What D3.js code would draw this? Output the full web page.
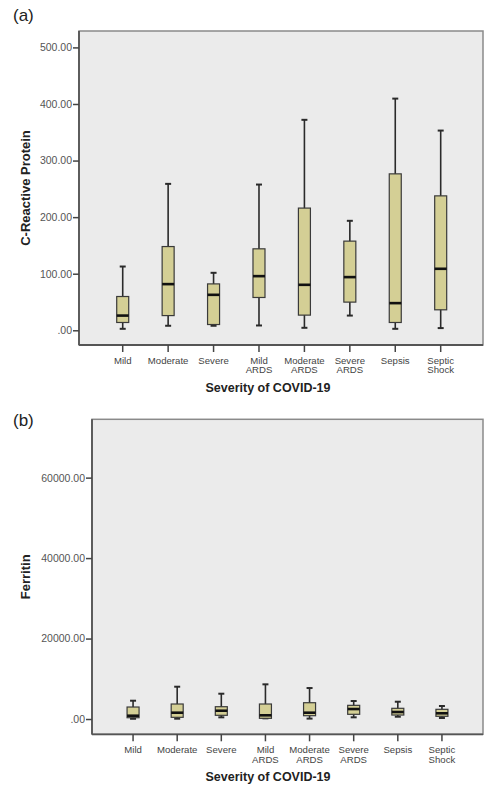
<!DOCTYPE html>
<html>
<head>
<meta charset="utf-8">
<script src="https://cdn.jsdelivr.net/npm/d3@7"></script>
<style>
  html, body { margin: 0; padding: 0; background: #fff; }
  svg { display: block; font-family: "Liberation Sans", Arial, sans-serif; }
</style>
</head>
<body>
<svg id="chart" width="486" height="792"></svg>
<script>
// categories (x axis), split into label lines
const categories = ["Mild", "Moderate", "Severe", "Mild ARDS", "Moderate ARDS", "Severe ARDS", "Sepsis", "Septic Shock"];
const categoryLines = [["Mild"], ["Moderate"], ["Severe"], ["Mild", "ARDS"], ["Moderate", "ARDS"], ["Severe", "ARDS"], ["Sepsis"], ["Septic", "Shock"]];

// (a) C-Reactive Protein box stats
const crpMin    = [2.6,   8,     8,    8.5,   4.4,   26,    2.6,   3.9];
const crpQ1     = [13.8,  26,    10.2, 58,    26.8,  49.8,  13.8,  36.2];
const crpMedian = [26,    81.6,  62.7, 95.7,  80.4,  94,    48,    108.7];
const crpQ3     = [59.7,  148,   82,   144,   216,   157.6, 276.5, 237.6];
const crpMax    = [112.7, 258.8, 101.6, 257.6, 372,  193.5, 409.5, 353];
const crpTicks  = [0, 100, 200, 300, 400, 500];

// (b) Ferritin box stats
const ferMin    = [60,   80,   420,  170,  100,  420,  570,  250];
const ferQ1     = [320,  420,  920,  170,  820,  1170, 990,  670];
const ferMedian = [820,  1570, 2060, 920,  1570, 2480, 1740, 1420];
const ferQ3     = [2980, 3730, 3060, 3730, 4050, 3400, 2660, 2410];
const ferMax    = [4550, 8030, 6290, 8620, 7700, 4470, 4300, 3230];
const ferTicks  = [0, 20000, 40000, 60000];

const svg = d3.select("#chart");
const fmt = v => v === 0 ? ".00" : d3.format(".2f")(v);

function zip(mins, q1s, meds, q3s, maxs) {
  return categories.map((c, i) => ({
    cat: c, lines: categoryLines[i],
    min: mins[i], q1: q1s[i], med: meds[i], q3: q3s[i], max: maxs[i]
  }));
}

function drawPanel(opts) {
  const { frame, extent, ticks, xRange, data, yTitle, panelLabel, labelY } = opts;
  const g = svg.append("g");

  const x = d3.scaleBand().domain(categories).range(xRange).padding(0);
  const y = d3.scaleLinear().domain(extent).range([frame.bottom, frame.top]);
  const cx = d => x(d) + x.bandwidth() / 2;

  // panel label
  svg.append("text")
    .attr("x", 13).attr("y", labelY)
    .style("font-size", "17px").style("fill", "#222")
    .text(panelLabel);

  // plot background + frame
  g.append("rect")
    .attr("x", frame.left).attr("y", frame.top)
    .attr("width", frame.right - frame.left).attr("height", frame.bottom - frame.top)
    .attr("fill", "#ebebeb").attr("stroke", "#8a8a8a").attr("stroke-width", 1.5);
  g.append("line")
    .attr("x1", frame.left).attr("x2", frame.left)
    .attr("y1", frame.top).attr("y2", frame.bottom)
    .attr("stroke", "#555").attr("stroke-width", 1.8);
  g.append("line")
    .attr("x1", frame.left).attr("x2", frame.right)
    .attr("y1", frame.bottom).attr("y2", frame.bottom)
    .attr("stroke", "#555").attr("stroke-width", 1.8);

  // y axis
  const yAxis = g.append("g")
    .attr("transform", `translate(${frame.left},0)`)
    .call(d3.axisLeft(y).tickValues(ticks).tickFormat(fmt).tickSize(6).tickPadding(1));
  yAxis.select(".domain").remove();
  yAxis.selectAll("line").attr("stroke", "#444").attr("stroke-width", 1.5);
  yAxis.selectAll("text")
    .style("font-size", "10.5px").style("fill", "#555").style("font-family", "Liberation Sans, Arial, sans-serif");

  // x axis
  const xAxis = g.append("g")
    .attr("transform", `translate(0,${frame.bottom})`)
    .call(d3.axisBottom(x).tickSize(7).tickFormat(""));
  xAxis.select(".domain").remove();
  xAxis.selectAll("line").attr("stroke", "#444").attr("stroke-width", 1.5);

  const xl = g.append("g").selectAll("text")
    .data(data).join("text")
    .attr("text-anchor", "middle")
    .attr("x", d => cx(d.cat))
    .attr("y", frame.bottom + 18.5)
    .style("font-size", "9.6px").style("fill", "#444");
  xl.selectAll("tspan")
    .data(d => d.lines.map(l => ({ l, xx: cx(d.cat) })))
    .join("tspan")
    .attr("x", d => d.xx)
    .attr("dy", (d, i) => i === 0 ? 0 : 9.8)
    .text(d => d.l);

  // axis titles
  g.append("text")
    .attr("x", 268).attr("y", frame.bottom + 47)
    .attr("text-anchor", "middle")
    .style("font-size", "12.5px").style("font-weight", "bold").style("fill", "#222")
    .text("Severity of COVID-19");
  g.append("text")
    .attr("transform", `translate(30,${(frame.top + frame.bottom) / 2}) rotate(-90)`)
    .attr("text-anchor", "middle")
    .style("font-size", "13px").style("font-weight", "bold").style("fill", "#222")
    .text(yTitle);

  // boxes
  const bw = 12, cap = 6;
  const box = g.append("g").selectAll("g").data(data).join("g");
  box.append("line")
    .attr("x1", d => cx(d.cat)).attr("x2", d => cx(d.cat))
    .attr("y1", d => y(d.max)).attr("y2", d => y(d.min))
    .attr("stroke", "#2a2a2a").attr("stroke-width", 1.6);
  box.append("line")
    .attr("x1", d => cx(d.cat) - cap / 2).attr("x2", d => cx(d.cat) + cap / 2)
    .attr("y1", d => y(d.max)).attr("y2", d => y(d.max))
    .attr("stroke", "#2a2a2a").attr("stroke-width", 2);
  box.append("line")
    .attr("x1", d => cx(d.cat) - cap / 2).attr("x2", d => cx(d.cat) + cap / 2)
    .attr("y1", d => y(d.min)).attr("y2", d => y(d.min))
    .attr("stroke", "#2a2a2a").attr("stroke-width", 2);
  box.append("rect")
    .attr("x", d => cx(d.cat) - bw / 2).attr("width", bw)
    .attr("y", d => y(d.q3)).attr("height", d => Math.max(0.5, y(d.q1) - y(d.q3)))
    .attr("fill", "#d4cf95").attr("stroke", "#3a3a3a").attr("stroke-width", 1.2);
  box.append("line")
    .attr("x1", d => cx(d.cat) - bw / 2).attr("x2", d => cx(d.cat) + bw / 2)
    .attr("y1", d => y(d.med)).attr("y2", d => y(d.med))
    .attr("stroke", "#111").attr("stroke-width", 2.6);
}

drawPanel({
  frame: { left: 79, right: 483, top: 31, bottom: 345 },
  extent: [-26, 529],
  ticks: crpTicks,
  xRange: [100, 463.4],
  data: zip(crpMin, crpQ1, crpMedian, crpQ3, crpMax),
  yTitle: "C-Reactive Protein",
  panelLabel: "(a)",
  labelY: 21
});

drawPanel({
  frame: { left: 92, right: 483, top: 419.3, bottom: 734.3 },
  extent: [-3800, 74500],
  ticks: ferTicks,
  xRange: [111, 464],
  data: zip(ferMin, ferQ1, ferMedian, ferQ3, ferMax),
  yTitle: "Ferritin",
  panelLabel: "(b)",
  labelY: 426
});
</script>
</body>
</html>
